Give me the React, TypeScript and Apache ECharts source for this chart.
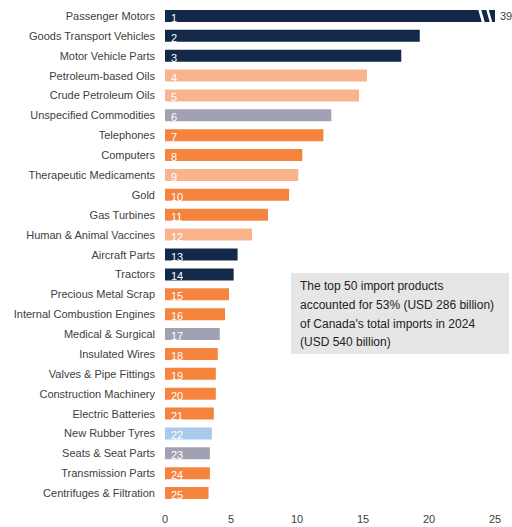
import React, { useEffect, useRef } from "react";
import * as echarts from "echarts";

const categories = [
  "Passenger Motors", "Goods Transport Vehicles", "Motor Vehicle Parts", "Petroleum-based Oils",
  "Crude Petroleum Oils", "Unspecified Commodities", "Telephones", "Computers",
  "Therapeutic Medicaments", "Gold", "Gas Turbines", "Human & Animal Vaccines",
  "Aircraft Parts", "Tractors", "Precious Metal Scrap", "Internal Combustion Engines",
  "Medical & Surgical", "Insulated Wires", "Valves & Pipe Fittings", "Construction Machinery",
  "Electric Batteries", "New Rubber Tyres", "Seats & Seat Parts", "Transmission Parts",
  "Centrifuges & Filtration",
];
const values = [39, 19.3, 17.9, 15.3, 14.7, 12.6, 12.0, 10.4, 10.1, 9.4, 7.8, 6.6, 5.5, 5.2, 4.85, 4.55, 4.15, 4.0, 3.85, 3.85, 3.7, 3.55, 3.4, 3.4, 3.3];
const groups = ["n", "n", "n", "lo", "lo", "g", "o", "o", "lo", "o", "o", "lo", "n", "n", "o", "o", "g", "o", "o", "o", "o", "lb", "g", "o", "o"];
const palette: Record<string, string> = { n: "#12294a", lo: "#f9b48e", g: "#a1a1b4", o: "#f5843f", lb: "#a8cbec" };
const axisMax = 25;
const noteLines = [
  "The top 50 import products",
  "accounted for 53% (USD 286 billion)",
  "of Canada's total imports in 2024",
  "(USD 540 billion)",
];

const FONT = "'Liberation Sans', Arial, sans-serif";

export default function App() {
  const ref = useRef<HTMLDivElement>(null);
  useEffect(() => {
    if (!ref.current) return;
    const chart = echarts.init(ref.current, null, { renderer: "svg" });
    chart.setOption({
      animation: false,
      textStyle: { fontFamily: FONT },
      grid: { left: 165, right: 17, top: 6, bottom: 24, containLabel: false },
      xAxis: {
        type: "value", min: 0, max: axisMax, interval: 5,
        axisLine: { show: false }, axisTick: { show: false }, splitLine: { show: false },
        axisLabel: { color: "#404040", fontSize: 11, fontFamily: FONT, margin: 10 },
      },
      yAxis: {
        type: "category", inverse: true, data: categories,
        axisLine: { show: false }, axisTick: { show: false },
        axisLabel: { color: "#404040", fontSize: 11, fontFamily: FONT, margin: 10 },
      },
      series: [
        {
          type: "bar",
          barWidth: 12,
          data: values.map((v, i) => ({
            value: Math.min(v, axisMax),
            itemStyle: { color: palette[groups[i]] },
          })),
          label: {
            show: true, position: "insideLeft", distance: 6,
            formatter: (p: any) => String(p.dataIndex + 1),
            color: "#ffffff", fontSize: 11, fontFamily: FONT, offset: [0, 2],
          },
        },
        {
          type: "bar",
          barWidth: 12,
          barGap: "-100%",
          silent: true,
          data: values.map((v) => (v > axisMax ? axisMax : null)),
          itemStyle: { color: "transparent" },
          label: {
            show: true, position: "right", distance: 5,
            formatter: (p: any) => String(values[p.dataIndex]),
            color: "#404040", fontSize: 11, fontFamily: FONT,
          },
        },
      ],
    });
    const graphics: any[] = [];
    values.forEach((v, i) => {
      if (v > axisMax) {
        const [xe, yc] = chart.convertToPixel({ gridIndex: 0 }, [axisMax, categories[i]]) as number[];
        const t = yc - 7, b = yc + 7;
        graphics.push(
          { type: "polygon", z: 100, shape: { points: [[xe - 17, t], [xe - 14, t], [xe - 10, b], [xe - 13, b]] }, style: { fill: "#ffffff" } },
          { type: "polygon", z: 100, shape: { points: [[xe - 9, t], [xe - 6.5, t], [xe - 2.5, b], [xe - 5, b]] }, style: { fill: "#ffffff" } },
        );
      }
    });
    graphics.push(
      { type: "rect", z: 100, shape: { x: 291, y: 273, width: 218, height: 81 }, style: { fill: "#e6e6e6" } },
      {
        type: "text", z: 101, x: 300, y: 277,
        style: { text: noteLines.join("\n"), fill: "#222222", fontSize: 12, lineHeight: 18.7, fontFamily: FONT },
      },
    );
    chart.setOption({ graphic: graphics });
    return () => chart.dispose();
  }, []);
  return <div ref={ref} style={{ width: 512, height: 527, position: "absolute", left: 0, top: 0 }} />;
}
